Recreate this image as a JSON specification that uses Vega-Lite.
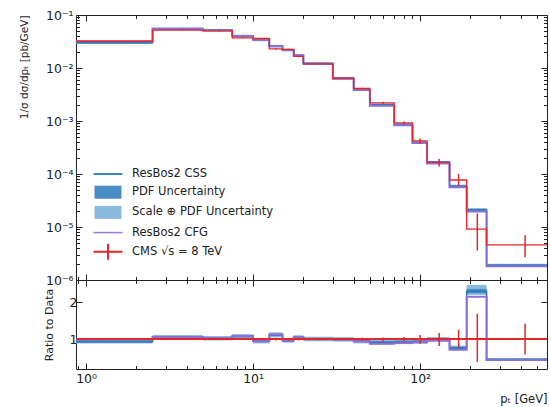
{
  "$schema": "https://vega.github.io/schema/vega-lite/v6.json",
  "padding": {"left": 18, "top": 8, "right": 2, "bottom": 3},
  "background": "white",
  "spacing": 0,
  "bounds": "flush",
  "data": {"values": [
    {"lo":0.5,"hi":2.5,"mid":1.25,"d":0.032,"elo":0.0314,"ehi":0.0326,"css":0.0301,"plo":0.0292,"phi":0.031,"slo":0.0285,"shi":0.0317,"cfg":0.032,"rc":0.94,"rplo":0.91,"rphi":0.97,"rslo":0.89,"rshi":1.0,"rg":1.0,"relo":0.98,"rehi":1.02},
    {"lo":2.5,"hi":5,"mid":3.75,"d":0.052,"elo":0.051,"ehi":0.053,"css":0.0551,"plo":0.0535,"phi":0.0567,"slo":0.0518,"shi":0.0584,"cfg":0.0553,"rc":1.06,"rplo":1.03,"rphi":1.09,"rslo":1.0,"rshi":1.12,"rg":1.065,"relo":0.98,"rehi":1.02},
    {"lo":5,"hi":7.5,"mid":6.25,"d":0.05,"elo":0.049,"ehi":0.051,"css":0.0515,"plo":0.05,"phi":0.053,"slo":0.0484,"shi":0.0546,"cfg":0.0516,"rc":1.03,"rplo":1.0,"rphi":1.06,"rslo":0.97,"rshi":1.09,"rg":1.035,"relo":0.98,"rehi":1.02},
    {"lo":7.5,"hi":10,"mid":8.75,"d":0.037,"elo":0.0362,"ehi":0.0378,"css":0.04,"plo":0.0388,"phi":0.0412,"slo":0.0376,"shi":0.0424,"cfg":0.0403,"rc":1.08,"rplo":1.05,"rphi":1.11,"rslo":1.02,"rshi":1.14,"rg":1.09,"relo":0.98,"rehi":1.02},
    {"lo":10,"hi":12.5,"mid":11.25,"d":0.036,"elo":0.0352,"ehi":0.0368,"css":0.0342,"plo":0.0332,"phi":0.0352,"slo":0.0321,"shi":0.0363,"cfg":0.0341,"rc":0.95,"rplo":0.92,"rphi":0.98,"rslo":0.89,"rshi":1.01,"rg":0.945,"relo":0.98,"rehi":1.02},
    {"lo":12.5,"hi":15,"mid":13.75,"d":0.023,"elo":0.0224,"ehi":0.0236,"css":0.0258,"plo":0.025,"phi":0.0266,"slo":0.0242,"shi":0.0273,"cfg":0.026,"rc":1.12,"rplo":1.09,"rphi":1.15,"rslo":1.05,"rshi":1.19,"rg":1.13,"relo":0.97,"rehi":1.03},
    {"lo":15,"hi":17.5,"mid":16.25,"d":0.0225,"elo":0.0219,"ehi":0.0231,"css":0.0218,"plo":0.0211,"phi":0.0225,"slo":0.0205,"shi":0.0231,"cfg":0.0218,"rc":0.97,"rplo":0.94,"rphi":1.0,"rslo":0.91,"rshi":1.03,"rg":0.97,"relo":0.97,"rehi":1.03},
    {"lo":17.5,"hi":20,"mid":18.75,"d":0.0165,"elo":0.016,"ehi":0.017,"css":0.0173,"plo":0.0168,"phi":0.0178,"slo":0.0163,"shi":0.0183,"cfg":0.0174,"rc":1.05,"rplo":1.02,"rphi":1.08,"rslo":0.99,"rshi":1.11,"rg":1.055,"relo":0.97,"rehi":1.03},
    {"lo":20,"hi":30,"mid":25,"d":0.012,"elo":0.0117,"ehi":0.0123,"css":0.0121,"plo":0.0117,"phi":0.0125,"slo":0.0114,"shi":0.0128,"cfg":0.012,"rc":1.01,"rplo":0.98,"rphi":1.04,"rslo":0.95,"rshi":1.07,"rg":1.0,"relo":0.975,"rehi":1.025},
    {"lo":30,"hi":40,"mid":35,"d":0.0064,"elo":0.00624,"ehi":0.00656,"css":0.0064,"plo":0.0062,"phi":0.0066,"slo":0.006,"shi":0.0068,"cfg":0.0063,"rc":1.0,"rplo":0.97,"rphi":1.03,"rslo":0.94,"rshi":1.06,"rg":0.99,"relo":0.975,"rehi":1.025},
    {"lo":40,"hi":50,"mid":45,"d":0.0041,"elo":0.00394,"ehi":0.00426,"css":0.0039,"plo":0.00378,"phi":0.00402,"slo":0.00367,"shi":0.00413,"cfg":0.00388,"rc":0.95,"rplo":0.92,"rphi":0.98,"rslo":0.89,"rshi":1.01,"rg":0.945,"relo":0.96,"rehi":1.04},
    {"lo":50,"hi":70,"mid":60,"d":0.0022,"elo":0.00209,"ehi":0.00231,"css":0.00203,"plo":0.00197,"phi":0.00209,"slo":0.00191,"shi":0.00215,"cfg":0.00194,"rc":0.92,"rplo":0.89,"rphi":0.95,"rslo":0.86,"rshi":0.98,"rg":0.88,"relo":0.95,"rehi":1.05},
    {"lo":70,"hi":90,"mid":80,"d":0.00092,"elo":0.000865,"ehi":0.000975,"css":0.000856,"plo":0.00083,"phi":0.000882,"slo":0.000805,"shi":0.000907,"cfg":0.000828,"rc":0.93,"rplo":0.9,"rphi":0.96,"rslo":0.87,"rshi":0.99,"rg":0.9,"relo":0.94,"rehi":1.06},
    {"lo":90,"hi":110,"mid":100,"d":0.00042,"elo":0.00037,"ehi":0.00047,"css":0.000395,"plo":0.000383,"phi":0.000407,"slo":0.000371,"shi":0.000419,"cfg":0.000386,"rc":0.94,"rplo":0.91,"rphi":0.97,"rslo":0.88,"rshi":1.0,"rg":0.92,"relo":0.88,"rehi":1.12},
    {"lo":110,"hi":150,"mid":130,"d":0.000165,"elo":0.000139,"ehi":0.000191,"css":0.000167,"plo":0.000162,"phi":0.000172,"slo":0.000157,"shi":0.000177,"cfg":0.000158,"rc":1.01,"rplo":0.98,"rphi":1.04,"rslo":0.96,"rshi":1.06,"rg":0.96,"relo":0.82,"rehi":1.17},
    {"lo":150,"hi":190,"mid":170,"d":0.000077,"elo":0.00006,"ehi":0.0001,"css":0.000059,"plo":0.000057,"phi":0.000061,"slo":0.000055,"shi":0.000063,"cfg":0.000056,"rc":0.77,"rplo":0.74,"rphi":0.8,"rslo":0.71,"rshi":0.83,"rg":0.72,"relo":0.78,"rehi":1.26},
    {"lo":190,"hi":250,"mid":220,"d":0.0000091,"elo":0.0000036,"ehi":0.000018,"css":0.000021,"plo":0.0000203,"phi":0.0000217,"slo":0.0000195,"shi":0.0000228,"cfg":0.0000196,"rc":2.3,"rplo":2.24,"rphi":2.36,"rslo":2.2,"rshi":2.47,"rg":2.15,"relo":0.39,"rehi":1.69},
    {"lo":250,"hi":600,"mid":425,"d":0.0000046,"elo":0.0000027,"ehi":0.000007,"css":0.0000019,"plo":0.00000184,"phi":0.00000196,"slo":0.00000178,"shi":0.00000203,"cfg":0.00000182,"rc":0.46,"rplo":0.445,"rphi":0.475,"rslo":0.43,"rshi":0.49,"rg":0.44,"relo":0.59,"rehi":1.42}
  ]},
  "config": {
    "font": "DejaVu Sans",
    "view": {"stroke": "#222", "strokeWidth": 1},
    "axis": {"domain": false, "grid": false, "tickColor": "#222", "tickWidth": 1, "labelColor": "#222", "labelFont": "DejaVu Sans", "labelFontSize": 12.5, "titleFont": "DejaVu Sans", "titleFontSize": 11, "titleFontWeight": "normal", "titleColor": "#222", "labelFlush": false, "labelOverlap": false, "labelPadding": 7},
    "legend": {"labelFont": "DejaVu Sans", "labelFontSize": 11.5, "labelColor": "#222", "labelLimit": 300}
  },
  "vconcat": [
    {
      "width": 471, "height": 265,
      "resolve": {"axis": {"x": "independent", "y": "independent"}},
      "layer": [
        {
          "mark": {"type": "rect", "color": "#8bbadf", "clip": true},
          "encoding": {
            "x": {"field": "lo", "type": "quantitative", "scale": {"type": "log", "domain": [0.87, 575], "nice": false},
              "axis": {"orient": "bottom", "labels": false, "title": null, "minExtent": 0, "maxExtent": 0, "values": [0.9,1,2,3,4,5,6,7,8,9,10,20,30,40,50,60,70,80,90,100,200,300,400,500],
                "tickSize": {"condition": {"test": "indexof([1,10,100], datum.value) >= 0", "value": -6}, "value": -3.5}}},
            "x2": {"field": "hi"},
            "y": {"field": "slo", "type": "quantitative", "scale": {"type": "log", "domain": [0.000001, 0.1], "nice": false},
              "axis": {"orient": "left", "title": "1/σ dσ/dpₜ [pb/GeV]", "titleAnchor": "end", "titleFontSize": 10.5, "titlePadding": 16, "labelPadding": 9,
                "values": [0.000001,0.000002,0.000003,0.000004,0.000005,0.000006,0.000007,0.000008,0.000009,0.00001,0.00002,0.00003,0.00004,0.00005,0.00006,0.00007,0.00008,0.00009,0.0001,0.0002,0.0003,0.0004,0.0005,0.0006,0.0007,0.0008,0.0009,0.001,0.002,0.003,0.004,0.005,0.006,0.007,0.008,0.009,0.01,0.02,0.03,0.04,0.05,0.06,0.07,0.08,0.09,0.1],
                "tickSize": {"condition": {"test": "indexof([0.000001,0.00001,0.0001,0.001,0.01,0.1], datum.value) >= 0", "value": -6}, "value": -3.5},
                "labelExpr": "datum.value == 0.000001 ? '10⁻⁶' : datum.value == 0.00001 ? '10⁻⁵' : datum.value == 0.0001 ? '10⁻⁴' : datum.value == 0.001 ? '10⁻³' : datum.value == 0.01 ? '10⁻²' : datum.value == 0.1 ? '10⁻¹' : ''"}},
            "y2": {"field": "shi"}
          }
        },
        {
          "mark": {"type": "rect", "color": "#4b8ec6", "clip": true},
          "encoding": {
            "x": {"field": "lo", "type": "quantitative",
              "axis": {"orient": "top", "labels": false, "title": null, "minExtent": 0, "maxExtent": 0, "values": [0.9,1,2,3,4,5,6,7,8,9,10,20,30,40,50,60,70,80,90,100,200,300,400,500],
                "tickSize": {"condition": {"test": "indexof([1,10,100], datum.value) >= 0", "value": -6}, "value": -3.5}}},
            "x2": {"field": "hi"},
            "y": {"field": "plo", "type": "quantitative",
              "axis": {"orient": "right", "labels": false, "title": null, "minExtent": 0, "maxExtent": 0,
                "values": [0.000001,0.000002,0.000003,0.000004,0.000005,0.000006,0.000007,0.000008,0.000009,0.00001,0.00002,0.00003,0.00004,0.00005,0.00006,0.00007,0.00008,0.00009,0.0001,0.0002,0.0003,0.0004,0.0005,0.0006,0.0007,0.0008,0.0009,0.001,0.002,0.003,0.004,0.005,0.006,0.007,0.008,0.009,0.01,0.02,0.03,0.04,0.05,0.06,0.07,0.08,0.09,0.1],
                "tickSize": {"condition": {"test": "indexof([0.000001,0.00001,0.0001,0.001,0.01,0.1], datum.value) >= 0", "value": -6}, "value": -3.5}}},
            "y2": {"field": "phi"}
          }
        },
        {
          "transform": [{"fold": ["lo", "hi"], "as": ["edge", "xv"]}],
          "mark": {"type": "line", "color": "#2878b5", "strokeWidth": 1.5, "clip": true},
          "encoding": {
            "x": {"field": "xv", "type": "quantitative", "axis": null},
            "y": {"field": "css", "type": "quantitative", "axis": null},
            "order": [{"field": "xv", "type": "quantitative"}, {"field": "edge", "type": "nominal"}]
          }
        },
        {
          "transform": [{"fold": ["lo", "hi"], "as": ["edge", "xv"]}],
          "mark": {"type": "line", "color": "#8a70d6", "strokeWidth": 2, "clip": true},
          "encoding": {
            "x": {"field": "xv", "type": "quantitative", "axis": null},
            "y": {"field": "cfg", "type": "quantitative", "axis": null},
            "order": [{"field": "xv", "type": "quantitative"}, {"field": "edge", "type": "nominal"}]
          }
        },
        {
          "transform": [{"fold": ["lo", "hi"], "as": ["edge", "xv"]}],
          "mark": {"type": "line", "color": "#e3262b", "strokeWidth": 1.3, "clip": true},
          "encoding": {
            "x": {"field": "xv", "type": "quantitative", "axis": null},
            "y": {"field": "d", "type": "quantitative", "axis": null},
            "order": [{"field": "xv", "type": "quantitative"}, {"field": "edge", "type": "nominal"}]
          }
        },
        {
          "mark": {"type": "rule", "color": "#e3262b", "strokeWidth": 1.5, "clip": true},
          "encoding": {
            "x": {"field": "mid", "type": "quantitative", "axis": null},
            "y": {"field": "elo", "type": "quantitative", "axis": null},
            "y2": {"field": "ehi"}
          }
        },
        {
          "data": {"values": [
            {"entry": "ResBos2 CSS"},
            {"entry": "PDF Uncertainty"},
            {"entry": "Scale ⊕ PDF Uncertainty"},
            {"entry": "ResBos2 CFG"},
            {"entry": "CMS √s = 8 TeV"}
          ]},
          "mark": {"type": "point", "filled": true, "opacity": 1, "clip": true},
          "encoding": {
            "x": {"field": "nx", "type": "quantitative", "axis": null},
            "y": {"field": "ny", "type": "quantitative", "axis": null},
            "color": {"field": "entry", "type": "nominal",
              "scale": {"domain": ["ResBos2 CSS", "PDF Uncertainty", "Scale ⊕ PDF Uncertainty", "ResBos2 CFG", "CMS √s = 8 TeV"],
                        "range": ["#2878b5", "#4b8ec6", "#8bbadf", "#9a7ddc", "#e3262b"]},
              "legend": {"orient": "none", "legendX": 24.5, "legendY": 151.5, "title": null, "symbolSize": 225, "symbolStrokeWidth": 0, "rowPadding": 5.2, "labelOffset": 16.5, "padding": 0}},
            "shape": {"field": "entry", "type": "nominal",
              "scale": {"domain": ["ResBos2 CSS", "PDF Uncertainty", "Scale ⊕ PDF Uncertainty", "ResBos2 CFG", "CMS √s = 8 TeV"],
                        "range": ["M-1.93,-0.12H1.93V0.12H-1.93Z", "M-1.8,-0.87H1.8V0.87H-1.8Z", "M-1.8,-0.87H1.8V0.87H-1.8Z", "M-1.93,-0.1H1.93V0.1H-1.93Z", "M-1.93,-0.13H1.93V0.13H-1.93Z M-0.13,-1.07H0.13V1.07H-0.13Z"]},
              "legend": {"orient": "none", "legendX": 24.5, "legendY": 151.5, "title": null, "symbolSize": 225, "symbolStrokeWidth": 0, "rowPadding": 5.2, "labelOffset": 16.5, "padding": 0}}
          }
        }
      ]
    },
    {
      "width": 471, "height": 89,
      "resolve": {"axis": {"x": "independent", "y": "independent"}},
      "layer": [
        {
          "mark": {"type": "rect", "color": "#8bbadf", "clip": true},
          "encoding": {
            "x": {"field": "lo", "type": "quantitative", "scale": {"type": "log", "domain": [0.87, 575], "nice": false},
              "axis": {"orient": "bottom", "title": "pₜ [GeV]", "titleAnchor": "end", "titleFontSize": 11.5, "titlePadding": 6, "labelPadding": 9, "values": [0.9,1,2,3,4,5,6,7,8,9,10,20,30,40,50,60,70,80,90,100,200,300,400,500],
                "tickSize": {"condition": {"test": "indexof([1,10,100], datum.value) >= 0", "value": -6}, "value": -3.5},
                "labelExpr": "datum.value == 1 ? '10⁰' : datum.value == 10 ? '10¹' : datum.value == 100 ? '10²' : ''"}},
            "x2": {"field": "hi"},
            "y": {"field": "rslo", "type": "quantitative", "scale": {"domain": [0.2, 2.6], "nice": false, "zero": false},
              "axis": {"orient": "left", "title": "Ratio to Data", "titlePadding": 15, "labelPadding": 5, "values": [1, 2], "tickSize": -6}},
            "y2": {"field": "rshi"}
          }
        },
        {
          "mark": {"type": "rect", "color": "#4b8ec6", "clip": true},
          "encoding": {
            "x": {"field": "lo", "type": "quantitative",
              "axis": {"orient": "top", "labels": false, "title": null, "minExtent": 0, "maxExtent": 0, "values": [0.9,1,2,3,4,5,6,7,8,9,10,20,30,40,50,60,70,80,90,100,200,300,400,500],
                "tickSize": {"condition": {"test": "indexof([1,10,100], datum.value) >= 0", "value": -6}, "value": -3.5}}},
            "x2": {"field": "hi"},
            "y": {"field": "rplo", "type": "quantitative",
              "axis": {"orient": "right", "labels": false, "title": null, "minExtent": 0, "maxExtent": 0, "values": [1, 2], "tickSize": -6}},
            "y2": {"field": "rphi"}
          }
        },
        {
          "transform": [{"fold": ["lo", "hi"], "as": ["edge", "xv"]}],
          "mark": {"type": "line", "color": "#2878b5", "strokeWidth": 1.5, "clip": true},
          "encoding": {
            "x": {"field": "xv", "type": "quantitative", "axis": null},
            "y": {"field": "rc", "type": "quantitative", "axis": null},
            "order": [{"field": "xv", "type": "quantitative"}, {"field": "edge", "type": "nominal"}]
          }
        },
        {
          "transform": [{"fold": ["lo", "hi"], "as": ["edge", "xv"]}],
          "mark": {"type": "line", "color": "#8a70d6", "strokeWidth": 2, "clip": true},
          "encoding": {
            "x": {"field": "xv", "type": "quantitative", "axis": null},
            "y": {"field": "rg", "type": "quantitative", "axis": null},
            "order": [{"field": "xv", "type": "quantitative"}, {"field": "edge", "type": "nominal"}]
          }
        },
        {
          "mark": {"type": "rule", "color": "#e3262b", "strokeWidth": 1.5, "clip": true},
          "encoding": {
            "y": {"datum": 1, "type": "quantitative", "axis": null}
          }
        },
        {
          "mark": {"type": "rule", "color": "#e3262b", "strokeWidth": 1.5, "clip": true},
          "encoding": {
            "x": {"field": "mid", "type": "quantitative", "axis": null},
            "y": {"field": "relo", "type": "quantitative", "axis": null},
            "y2": {"field": "rehi"}
          }
        }
      ]
    }
  ]
}
